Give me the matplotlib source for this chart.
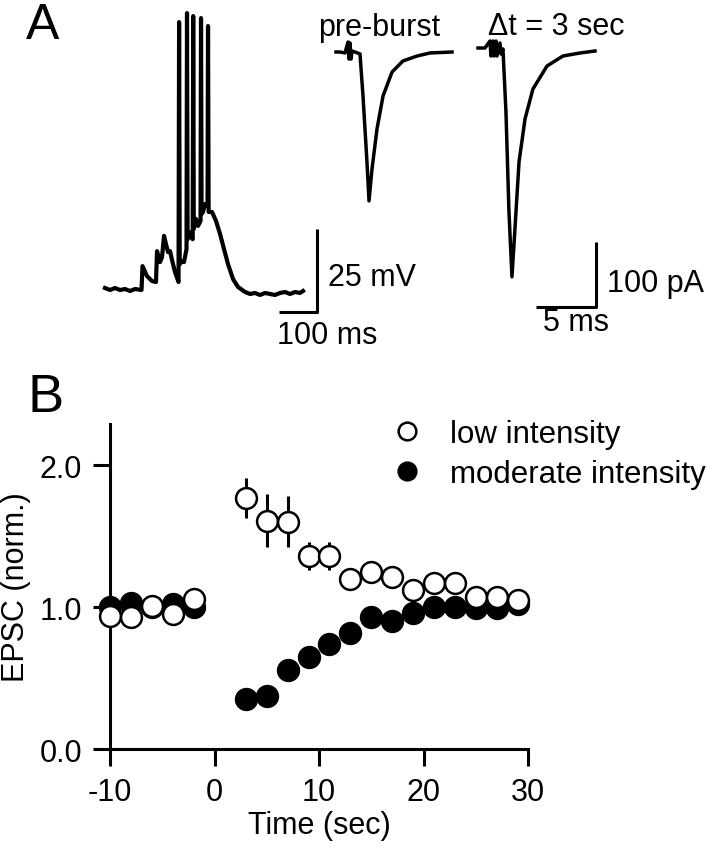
import matplotlib
matplotlib.use("Agg")
import matplotlib.pyplot as plt

plt.rcParams["font.family"] = ["Liberation Sans", "DejaVu Sans"]
plt.rcParams["axes.unicode_minus"] = False

W, H = 707, 853

# ---- Panel A: burst recording (ms, mV) ----
burst_t = [0, 13.2, 26.3, 39.5, 52.6, 65.8, 79.0, 96.1, 98.7, 110.5, 123.7, 134.2,
           136.9, 144.8, 150.0, 155.3, 160.6, 165.8, 171.1, 179.0, 184.2, 193.5,
           195.0, 196.6, 202.7, 207.9, 214.5, 215.8, 217.4, 221.1, 226.4, 230.8,
           232.1, 233.7, 239.5, 244.8, 251.4, 252.7, 254.2, 257.9, 263.2, 269.8,
           271.1, 272.7, 281.6, 292.1, 302.7, 313.2, 323.7, 336.9, 350.1, 368.5,
           381.6, 394.8, 408.0, 421.1, 434.3, 447.4, 460.6, 473.8, 486.9, 500.1,
           513.2, 521.1]
burst_v = [-64.7, -65.3, -64.7, -65.3, -65.0, -65.6, -65.0, -65.3, -58.1, -61.1,
           -62.6, -62.9, -53.6, -56.9, -55.4, -49.0, -51.5, -53.9, -53.6, -57.5,
           -59.9, -62.9, 15.4, -57.5, -56.6, -56.9, -53.0, 18.1, -50.0, -47.8,
           -49.3, -50.0, 17.2, -46.9, -43.9, -46.0, -44.5, 16.6, -42.4, -41.8,
           -39.4, -40.0, 14.2, -41.8, -41.8, -44.5, -48.4, -53.0, -57.5, -62.0,
           -64.4, -65.9, -66.5, -66.2, -66.8, -66.2, -66.5, -66.8, -66.2, -65.9,
           -66.5, -65.9, -66.2, -65.6]

# ---- EPSC traces (ms, pA) ----
pre_t = [0, 0.33, 0.75, 1.0, 1.08, 1.17, 1.25, 1.33, 1.58, 2.0, 2.25, 2.58, 2.75,
         3.0, 3.42, 3.92, 4.67, 5.58, 6.75, 7.83, 9.67]
pre_i = [0, 0, -1.5, 15.4, -10.8, 13.8, -10.8, 1.5, 0, -3, -67.7, -169, -229,
         -180, -118, -67.7, -30.8, -13.8, -6.2, -1.5, 0]

post_t = [0, 0.58, 1.0, 1.08, 1.25, 1.33, 1.5, 1.58, 1.83, 1.92, 2.08, 2.33, 2.58,
          2.83, 3.08, 3.42, 3.92, 4.58, 5.75, 7.08, 8.5, 9.75]
post_i = [0, 0, 10.8, -12.3, 10.8, -12.3, 10.8, -12.3, 7.7, -9.2, -1.5, -98.4,
          -252, -352, -278, -175, -109, -63, -27.7, -12.3, -7.7, -4.6]

# ---- Panel B data ----
time_sec = [-10, -8, -6, -4, -2, 3, 5, 7, 9, 11, 13, 15, 17, 19, 21, 23, 25, 27, 29]
low_mean = [0.94, 0.93, 1.01, 0.95, 1.06, 1.77, 1.61, 1.60, 1.36, 1.36, 1.20, 1.25,
            1.21, 1.12, 1.17, 1.17, 1.07, 1.07, 1.05]
low_err = [0.03, 0.03, 0.03, 0.03, 0.03, 0.14, 0.19, 0.18, 0.10, 0.10, 0.05, 0.05,
           0.04, 0.04, 0.04, 0.04, 0.03, 0.03, 0.03]
mod_mean = [1.00, 1.03, 1.00, 1.02, 1.00, 0.35, 0.37, 0.56, 0.65, 0.74, 0.82, 0.93,
            0.90, 0.96, 1.00, 1.00, 0.99, 0.99, 1.02]
mod_err = [0.02, 0.02, 0.02, 0.02, 0.02, 0.04, 0.04, 0.04, 0.04, 0.04, 0.04, 0.04,
           0.03, 0.03, 0.03, 0.03, 0.03, 0.03, 0.03]


def px(x, y):
    return x / W, 1 - y / H


def trace_axes(fig, box, ref_px, ref_val, xs, ys):
    # box = (left, top, right, bottom) in pixels; xs, ys = units per pixel
    l, t, r, b = box
    ax = fig.add_axes([l / W, 1 - b / H, (r - l) / W, (b - t) / H])
    ax.set_xlim(ref_val[0] + (l - ref_px[0]) * xs, ref_val[0] + (r - ref_px[0]) * xs)
    ax.set_ylim(ref_val[1] - (b - ref_px[1]) * ys, ref_val[1] - (t - ref_px[1]) * ys)
    ax.axis("off")
    ax.patch.set_alpha(0)
    return ax


fig = plt.figure(figsize=(W / 100, H / 100), dpi=100)

ax_v = trace_axes(fig, (90, 0, 330, 330), (105, 290), (0, -65), 100 / 38, 25 / 83)
ax_v.plot(burst_t, burst_v, color="black", lw=3.0, solid_joinstyle="round")
# scale bar 25 mV / 100 ms
ax_v.plot([458, 558, 558], [-71.9, -71.9, -46.9], color="black", lw=2.2,
          solid_capstyle="butt", clip_on=False)

ax_pre = trace_axes(fig, (320, 0, 470, 330), (336, 53), (0, 0), 5 / 60, 100 / 65)
ax_pre.plot(pre_t, pre_i, color="black", lw=2.5, solid_joinstyle="round")

ax_post = trace_axes(fig, (470, 0, 707, 330), (478, 49), (0, 0), 5 / 60, 100 / 65)
ax_post.plot(post_t, post_i, color="black", lw=2.5, solid_joinstyle="round")
# scale bar 100 pA / 5 ms
ax_post.plot([4.83, 9.83, 9.83], [-398, -398, -298], color="black", lw=2.2,
             solid_capstyle="butt", clip_on=False)

fs = 22
fig.text(*px(43, 39), "A", fontsize=36, ha="center", va="baseline")
fig.text(*px(379, 36), "pre-burst", fontsize=fs, ha="center", va="baseline")
fig.text(*px(556, 35), "\u0394t = 3 sec", fontsize=fs, ha="center", va="baseline")
fig.text(*px(328, 286), "25 mV", fontsize=fs, ha="left", va="baseline")
fig.text(*px(327, 344), "100 ms", fontsize=fs, ha="center", va="baseline")
fig.text(*px(607, 292), "100 pA", fontsize=fs, ha="left", va="baseline")
fig.text(*px(576, 331), "5 ms", fontsize=fs, ha="center", va="baseline")
fig.text(*px(46, 412), "B", fontsize=39, ha="center", va="baseline")

# ---- Panel B ----
ax = fig.add_axes([110 / W, 1 - 750 / H, 418 / W, 325 / H])
ax.errorbar(time_sec, mod_mean, yerr=mod_err, fmt="none", ecolor="black",
            elinewidth=2.2, capsize=0, clip_on=False, zorder=2)
ax.errorbar(time_sec, low_mean, yerr=low_err, fmt="none", ecolor="black",
            elinewidth=2.2, capsize=0, clip_on=False, zorder=2)
ax.plot(time_sec, mod_mean, "o", ms=15, mfc="black", mec="black", mew=1.8,
        clip_on=False, zorder=3, label="moderate intensity")
ax.plot(time_sec, low_mean, "o", ms=15, mfc="white", mec="black", mew=1.8,
        clip_on=False, zorder=4, label="low intensity")

ax.set_xlim(-10, 30)
ax.set_ylim(0, 2.29)
ax.set_xticks([-10, 0, 10, 20, 30])
ax.set_yticks([0, 1, 2])
ax.set_yticklabels(["0.0", "1.0", "2.0"])
for s in ["top", "right"]:
    ax.spines[s].set_visible(False)
for s in ["left", "bottom"]:
    ax.spines[s].set_linewidth(2.2)
ax.tick_params(direction="out", length=12, width=2.2, labelsize=fs, pad=8)
ax.set_xlabel("Time (sec)", fontsize=fs, labelpad=2)
ax.set_ylabel("EPSC (norm.)", fontsize=fs)
ax.yaxis.set_label_coords(-79 / 418, 0.5)

handles, labels = ax.get_legend_handles_labels()
leg = ax.legend(handles[::-1], labels[::-1], loc="upper left",
                bbox_to_anchor=px(398, 420), bbox_transform=fig.transFigure,
                frameon=False, fontsize=22.5, handlelength=0.6, handletextpad=1.05,
                labelspacing=0.33, markerscale=0.85, borderpad=0, borderaxespad=0)

fig.savefig("out.png", dpi=100)
